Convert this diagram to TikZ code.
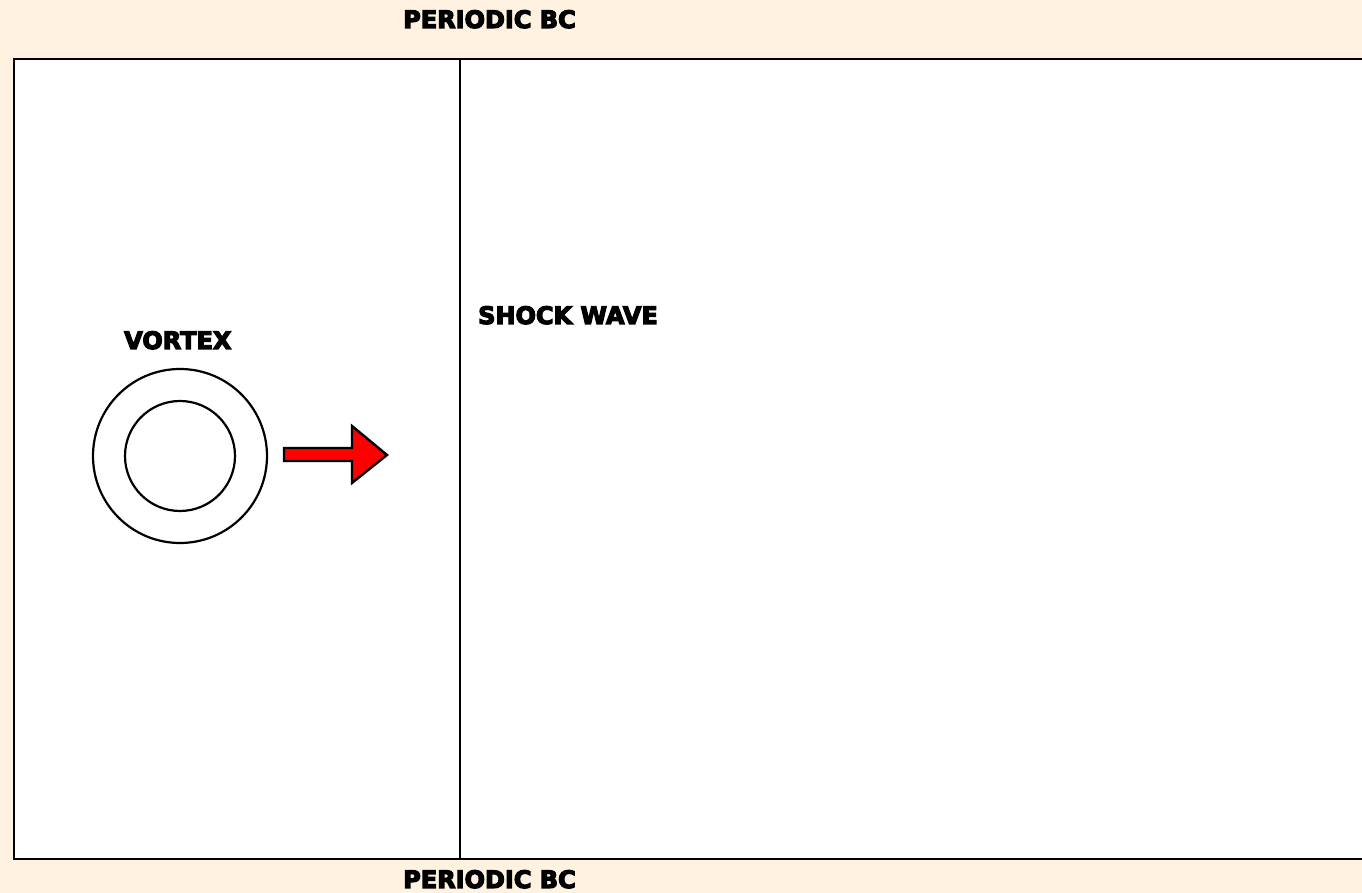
\documentclass[tikz,border=0pt]{standalone}
\usepackage{fontspec}
\newfontfamily\heavyfont[FakeBold=5]{DejaVu Sans Bold}
\definecolor{bgbeige}{HTML}{FFF2E0}
\definecolor{arrowred}{HTML}{FF0000}
\begin{document}
\begin{tikzpicture}[x=1pt,y=1pt,
  lbl/.style={anchor=base west,inner sep=0pt,font=\heavyfont\fontsize{24}{24}\selectfont,text=black},
  ring/.style={draw=black,line width=2.2pt}]
  % canvas and domain
  \fill[bgbeige] (0,0) rectangle (1362,893);
  \useasboundingbox (0,0) rectangle (1362,893);
  \fill[white] (14,34) rectangle (1370,834);
  \draw[line width=2.6pt] (1370,834) -- (14,834) -- (14,34) -- (1370,34);
  \draw[line width=2.6pt] (460,834) -- (460,34);
  % labels
  \node[lbl] (topbc) at (403,865) {PERIODIC BC};
  \node[lbl] (botbc) at (403,5) {PERIODIC BC};
  \node[lbl] (vlabel) at (124,544) {VORTEX};
  \node[lbl] (slabel) at (478,569) {SHOCK WAVE};
  % vortex rings
  \node[ring,circle,minimum size=174pt,inner sep=0pt] (outer) at (180,437) {};
  \node[ring,circle,minimum size=110pt,inner sep=0pt] (inner) at (180,437) {};
  % motion arrow
  \draw[line width=2.4pt,fill=arrowred,line join=miter]
    (284,432) -- (352,432) -- (352,410) -- (387,438) -- (352,467) -- (352,445) -- (284,445) -- cycle;
\end{tikzpicture}
\end{document}
